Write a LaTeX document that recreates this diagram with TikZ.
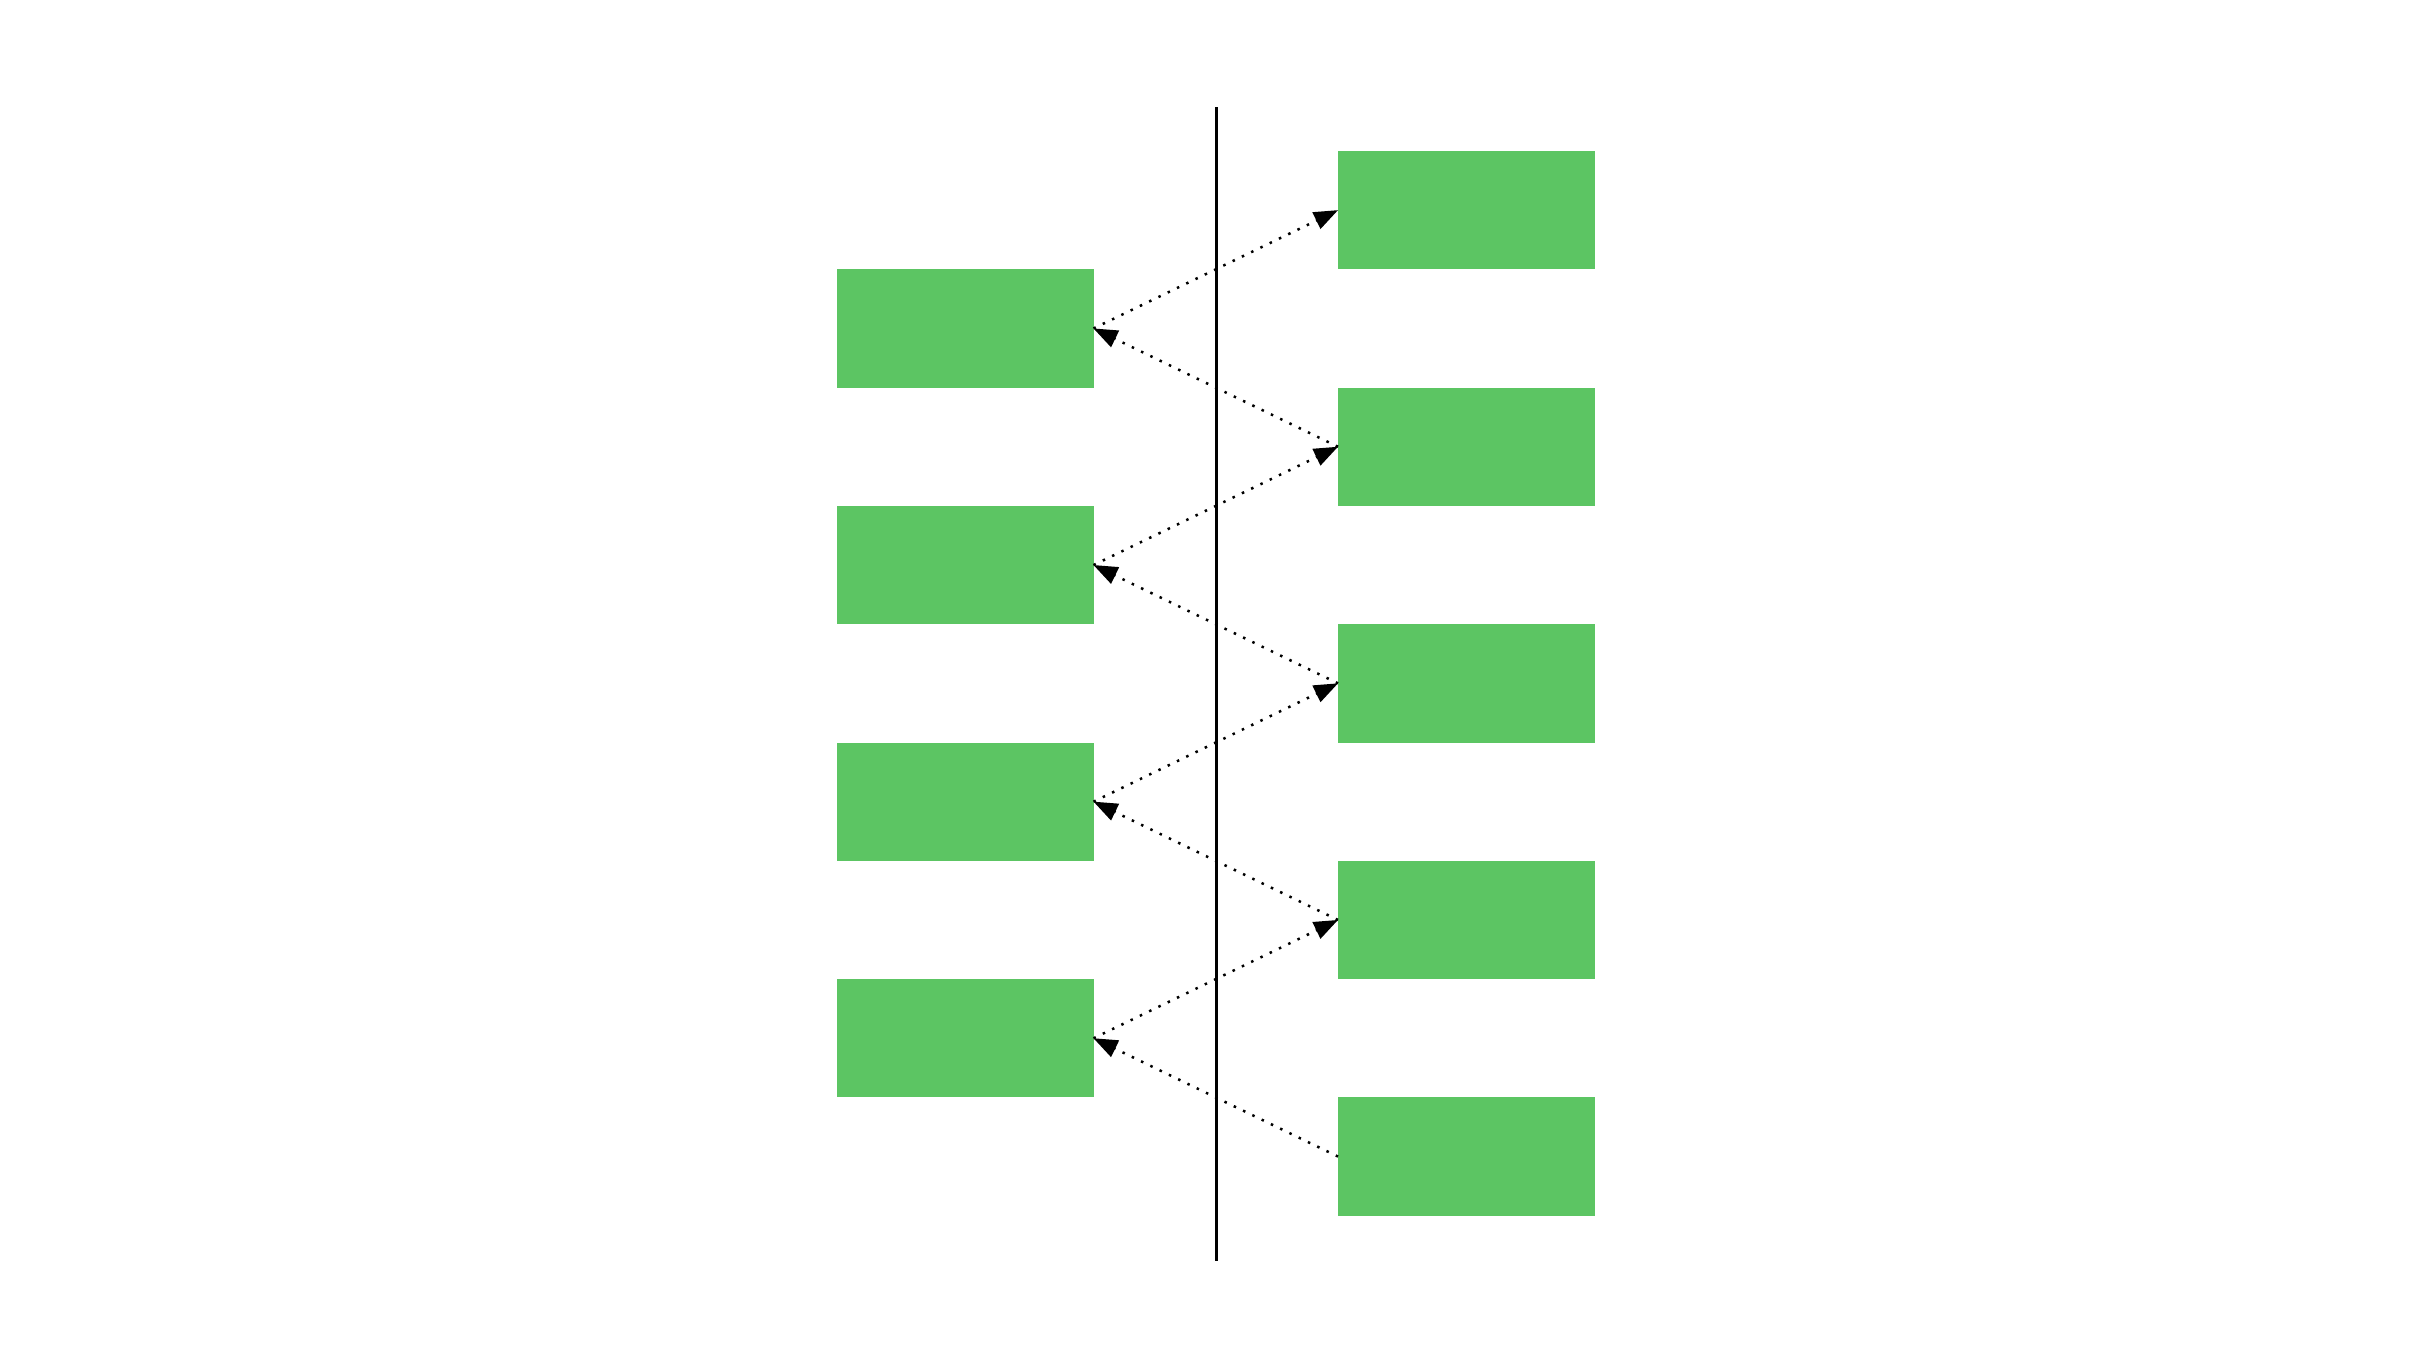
\documentclass[tikz,border=0pt]{standalone}
\usetikzlibrary{arrows.meta}
\definecolor{boxgreen}{RGB}{92,197,99}
\begin{document}
\begin{tikzpicture}[x=1pt,y=-1pt,
  gbox/.style={fill=boxgreen,draw=none,minimum width=257pt,minimum height=118.3pt,inner sep=0pt,outer sep=0pt},
  link/.style={line width=2.5pt,dash pattern=on 2.5pt off 7.8pt,-{Triangle[length=24pt,width=18pt]}}]
\useasboundingbox (0,0) rectangle (2432,1366);
\node[gbox] (r1) at (1466.5,210.15) {};
\node[gbox] (l1) at (965,328.45) {};
\node[gbox] (r2) at (1466.5,446.75) {};
\node[gbox] (l2) at (965,565.05) {};
\node[gbox] (r3) at (1466.5,683.35) {};
\node[gbox] (l3) at (965,801.65) {};
\node[gbox] (r4) at (1466.5,919.95) {};
\node[gbox] (l4) at (965,1038.25) {};
\node[gbox] (r5) at (1466.5,1156.55) {};
\coordinate (vtop) at (1216.5,107);
\coordinate (vbot) at (1216.5,1261);
\draw[line width=3pt] (vtop) -- (vbot);
\draw[link] (l1.east) -- (r1.west);
\draw[link] (r2.west) -- (l1.east);
\draw[link] (l2.east) -- (r2.west);
\draw[link] (r3.west) -- (l2.east);
\draw[link] (l3.east) -- (r3.west);
\draw[link] (r4.west) -- (l3.east);
\draw[link] (l4.east) -- (r4.west);
\draw[link] (r5.west) -- (l4.east);
\end{tikzpicture}
\end{document}
